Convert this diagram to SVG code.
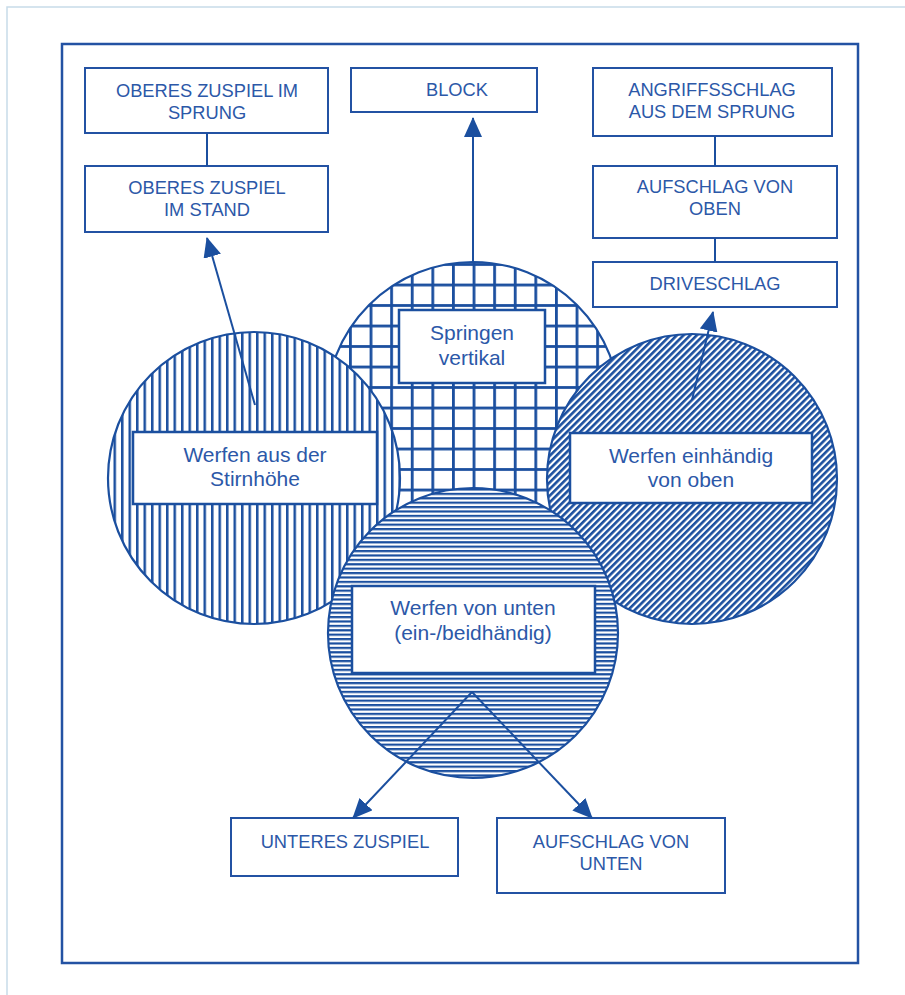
<svg xmlns="http://www.w3.org/2000/svg" width="905" height="995" viewBox="0 0 905 995">
<style>
.bx{fill:#fff;stroke:#2352a3;stroke-width:2}
.lb{fill:#fff;stroke:#1b4f9f;stroke-width:2.5}
.ol{stroke:#1b4f9f;stroke-width:2.2}
.t{font-family:"Liberation Sans",Arial,sans-serif;font-size:18.3px;fill:#2c58a8;text-anchor:middle}
.tl{font-family:"Liberation Sans",Arial,sans-serif;font-size:21px;fill:#2c58a8;text-anchor:middle}
.cn{stroke:#1b4f9f;stroke-width:2;fill:none}
</style>
<defs>
<pattern id="pv" patternUnits="userSpaceOnUse" x="181" y="0" width="7.5" height="10">
<rect x="0" y="0" width="2.5" height="10" fill="#1b4f9f"/>
</pattern>
<pattern id="pg" patternUnits="userSpaceOnUse" x="472.6" y="283.6" width="20.6" height="20.5">
<rect x="0" y="0" width="2.8" height="20.5" fill="#1b4f9f"/>
<rect x="0" y="0" width="20.6" height="2.8" fill="#1b4f9f"/>
</pattern>
<pattern id="ph" patternUnits="userSpaceOnUse" x="0" y="0" width="10" height="4.4">
<rect x="0" y="0" width="10" height="2.2" fill="#1b4f9f"/>
</pattern>
<pattern id="pd" patternUnits="userSpaceOnUse" x="0" y="0" width="10" height="4.7" patternTransform="rotate(-45)">
<rect x="0" y="0" width="10" height="2.6" fill="#1b4f9f"/>
</pattern>
<marker id="ah" markerUnits="userSpaceOnUse" markerWidth="20" markerHeight="18" viewBox="0 0 20 18" refX="19" refY="9" orient="auto">
<path d="M0,0 L20,9 L0,18 z" fill="#1b4f9f"/>
</marker>
</defs>
<rect width="905" height="995" fill="#fff"/>
<path d="M7,995 V7 H905" fill="none" stroke="#c8dbe9" stroke-width="1.5"/>
<rect x="62" y="44" width="796" height="919" fill="none" stroke="#2352a3" stroke-width="2.5"/>

<g id="oberes-zuspiel-sprung"><rect class="bx" x="85" y="68" width="243" height="65"/><text class="t" x="207" y="97">OBERES ZUSPIEL IM</text><text class="t" x="207" y="119">SPRUNG</text></g>
<g id="oberes-zuspiel-stand"><rect class="bx" x="85" y="166" width="243" height="66"/><text class="t" x="207" y="194">OBERES ZUSPIEL</text><text class="t" x="207" y="216">IM STAND</text></g>
<g id="block"><rect class="bx" x="351" y="68" width="186" height="44"/><text class="t" x="457" y="96">BLOCK</text></g>
<g id="angriffsschlag"><rect class="bx" x="593" y="68" width="239" height="68"/><text class="t" x="712" y="96">ANGRIFFSSCHLAG</text><text class="t" x="712" y="118">AUS DEM SPRUNG</text></g>
<g id="aufschlag-oben"><rect class="bx" x="593" y="166" width="244" height="72"/><text class="t" x="715" y="193">AUFSCHLAG VON</text><text class="t" x="715" y="215">OBEN</text></g>
<g id="driveschlag"><rect class="bx" x="593" y="262" width="244" height="45"/><text class="t" x="715" y="290">DRIVESCHLAG</text></g>

<g id="springen-vertikal">
<circle cx="473" cy="409" r="147" fill="#fff"/>
<circle class="ol" cx="473" cy="409" r="147" fill="url(#pg)"/>
<rect class="lb" x="399" y="310" width="146" height="73"/>
<text class="tl" x="472" y="340">Springen</text><text class="tl" x="472" y="365">vertikal</text>
</g>
<g id="werfen-stirnhoehe">
<circle cx="254" cy="478" r="146" fill="#fff"/>
<circle class="ol" cx="254" cy="478" r="146" fill="url(#pv)"/>
<rect class="lb" x="133" y="432" width="244" height="72"/>
<text class="tl" x="255" y="462">Werfen aus der</text><text class="tl" x="255" y="486">Stirnhöhe</text>
</g>
<g id="werfen-einhaendig">
<circle cx="692" cy="479" r="145" fill="#fff"/>
<circle class="ol" cx="692" cy="479" r="145" fill="url(#pd)"/>
<rect class="lb" x="570" y="433" width="242" height="70"/>
<text class="tl" x="691" y="463">Werfen einhändig</text><text class="tl" x="691" y="487">von oben</text>
</g>
<g id="werfen-unten">
<circle cx="473" cy="633" r="145" fill="#fff"/>
<circle class="ol" cx="473" cy="633" r="145" fill="url(#ph)"/>
<rect class="lb" x="352" y="586" width="243" height="87" stroke-width="3.5"/>
<text class="tl" x="473" y="615">Werfen von unten</text><text class="tl" x="473" y="640">(ein-/beidhändig)</text>
</g>

<g id="unteres-zuspiel"><rect class="bx" x="231" y="818" width="227" height="58"/><text class="t" x="345" y="848">UNTERES ZUSPIEL</text></g>
<g id="aufschlag-unten"><rect class="bx" x="497" y="818" width="228" height="75"/><text class="t" x="611" y="848">AUFSCHLAG VON</text><text class="t" x="611" y="870">UNTEN</text></g>

<g id="connectors">
<line class="cn" x1="207" y1="133" x2="207" y2="166"/>
<line class="cn" x1="715" y1="136" x2="715" y2="166"/>
<line class="cn" x1="715" y1="238" x2="715" y2="262"/>
<line class="cn" x1="255" y1="405" x2="207" y2="238" marker-end="url(#ah)"/>
<line class="cn" x1="473" y1="262" x2="473" y2="118" marker-end="url(#ah)"/>
<line class="cn" x1="692" y1="400" x2="713" y2="312" marker-end="url(#ah)"/>
<line class="cn" x1="472" y1="692" x2="353" y2="818" marker-end="url(#ah)"/>
<line class="cn" x1="472" y1="692" x2="592" y2="818" marker-end="url(#ah)"/>
</g>
</svg>
